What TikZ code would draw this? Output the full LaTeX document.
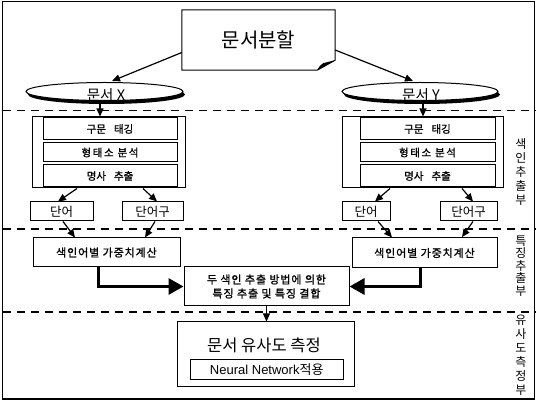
\documentclass[tikz,border=0pt]{standalone}
\usepackage{fontspec}
\newfontfamily\kr{Noto Sans CJK KR}
\newfontfamily\krb[FakeBold=1.2]{Noto Sans CJK KR}
\newfontfamily\lib{Liberation Sans}
\usetikzlibrary{arrows.meta,calc,shapes.geometric}
\tikzset{
  box/.style={draw, line width=1pt, inner sep=0pt},
  arr/.style={-{Triangle[length=8pt,width=7pt]}, line width=1.2pt},
  bigarr/.style={-{Triangle[length=15pt,width=16pt]}, line width=3pt},
  sep/.style={dash pattern=on 8pt off 6pt, line width=1.6pt},
  fsmall/.style={font=\krb\fontsize{10.5}{12}\selectfont},
  fword/.style={font=\kr\fontsize{12.5}{14}\selectfont},
  fmid/.style={font=\krb\fontsize{11}{14}\selectfont},
  side/.style={align=center, inner sep=0pt, font=\kr\fontsize{12}{14}\selectfont},
  ell/.style={ellipse, draw, fill=white, line width=1pt, inner sep=0pt, minimum height=18pt},
}
\begin{document}
\begin{tikzpicture}[x=1pt,y=-1pt]
\useasboundingbox (0,0) rectangle (536,403);
% frame
\draw[line width=1.2pt] (2.5,1.5) rectangle (534.5,399);
% separators
\coordinate (s1a) at (2.5,110.5); \coordinate (s1b) at (536,110.5);
\coordinate (s2a) at (2.5,229); \coordinate (s2b) at (536,229);
\coordinate (s3a) at (2.5,312); \coordinate (s3b) at (536,312);
\draw[sep] (s1a) -- (s1b);
\draw[sep] (s2a) -- (s2b);
\draw[sep] (s3a) -- (s3b);

% top note box
\node[inner sep=0pt, minimum width=153pt, minimum height=60pt, font=\kr\fontsize{20}{24}\selectfont] (split) at (258.5,40) {문서분할};
\draw[line width=1pt] (split.north west) -- (split.north east) -- ($(split.south east)+(0,-10)$)
  -- ($(split.south east)+(-18,0)$) -- (split.south west) -- cycle;
\fill ($(split.south east)+(-18,0)$) .. controls ($(split.south east)+(-15,-5)$) .. ($(split.south east)+(-12,-7)$)
  -- ($(split.south east)+(0,-10)$) -- ($(split.south east)+(-14,-2)$) -- cycle;

% ellipses (with drop shadow)
\fill (106.5,94.5) ellipse (78.5pt and 9.5pt);
\node[ell, minimum width=157pt] (ellX) at (104.5,91.5) {};
\fill (422,94.5) ellipse (78pt and 9.5pt);
\node[ell, minimum width=156pt] (ellY) at (420,91.5) {};
\node[font=\kr\fontsize{14.5}{16}\selectfont, inner sep=0pt] (tX) at (106,95) {문서 X};
\node[font=\kr\fontsize{14.5}{16}\selectfont, inner sep=0pt] (tY) at (421,95) {문서 Y};

\draw[arr] ($(split.west)+(0,12.5)$) -- ($(ellX.north)+(7.5,-1)$);
\draw[arr] ($(split.east)+(0,10)$) -- ($(ellY.north)+(-7,-1)$);

% index boxes left
\node[box, minimum width=153pt, minimum height=71pt] (ixX) at (108.5,152.5) {};
\node[box, fsmall, minimum width=134pt, minimum height=22pt] (tagX) at (110,129) {구문\hspace{8pt}태깅};
\node[box, fsmall, minimum width=134pt, minimum height=19pt] (morX) at (110,152.5) {\addfontfeature{LetterSpace=15}형태소 분석};
\node[box, fsmall, minimum width=134pt, minimum height=22pt] (nounX) at (110,176) {명사\hspace{8pt}추출};
% index boxes right
\node[box, minimum width=161pt, minimum height=71pt] (ixY) at (422.5,152.5) {};
\node[box, fsmall, minimum width=135pt, minimum height=22pt] (tagY) at (427.5,129) {구문\hspace{8pt}태깅};
\node[box, fsmall, minimum width=135pt, minimum height=19pt] (morY) at (427.5,152.5) {\addfontfeature{LetterSpace=15}형태소 분석};
\node[box, fsmall, minimum width=135pt, minimum height=22pt] (nounY) at (427.5,176) {명사\hspace{8pt}추출};

\draw[arr] ($(ellX.south)+(-4.5,3)$) -- ($(ixX.north)+(-8.5,0)$);
\draw[arr] ($(ellY.south)+(3,3)$) -- ($(ixY.north)+(0.5,0)$);

% word boxes
\node[box, fword, minimum width=63pt, minimum height=19pt] (wX) at (61.5,211.5) {단어};
\node[box, fword, minimum width=61pt, minimum height=19pt] (pX) at (152.5,211.5) {단어구};
\node[box, fword, minimum width=48pt, minimum height=19pt] (wY) at (366,211.5) {단어};
\node[box, fword, minimum width=57pt, minimum height=19pt] (pY) at (468.5,211.5) {단어구};

\draw[arr] ($(ixX.south)+(-31.5,0)$) -- ($(wX.north)+(-3.5,0)$);
\draw[arr] ($(ixX.south)+(34.5,0)$) -- ($(pX.north)+(4.5,0)$);
\draw[arr] ($(ixY.south)+(-32.5,0)$) -- ($(wY.north)+(9,0)$);
\draw[arr] ($(ixY.south)+(39.5,0)$) -- ($(pY.north)+(4.5,0)$);

% weight boxes
\node[box, fmid, minimum width=147pt, minimum height=29pt] (idxL) at (106.5,252.5) {\addfontfeature{LetterSpace=8}색인어별 가중치계산};
\node[box, fmid, minimum width=145pt, minimum height=30pt] (idxR) at (424.5,253) {\addfontfeature{LetterSpace=8}색인어별 가중치계산};

\draw[arr] ($(wX.south)+(1.5,0)$) -- ($(idxL.north)+(-31.5,0)$);
\draw[arr] ($(pX.south)+(2.5,0)$) -- ($(idxL.north)+(38.5,0)$);
\draw[arr] ($(wY.south)+(12,0)$) -- ($(idxR.north)+(-32.5,0)$);
\draw[arr] ($(pY.south)+(4.5,0)$) -- ($(idxR.north)+(37.5,-0.5)$);

% combination box
\node[box, fmid, align=center, minimum width=165pt, minimum height=39pt] (mid) at (266.5,286.5)
  {\addfontfeature{LetterSpace=8}두 색인 추출 방법에 의한\\\addfontfeature{LetterSpace=8}특징 추출 및 특징 결합};
\draw[bigarr] ($(idxL.south)+(-8.5,0)$) |- (mid.west);
\draw[bigarr] ($(idxR.south)+(-4.5,0)$) |- (mid.east);

% similarity box
\node[box, minimum width=177pt, minimum height=65pt] (sim) at (265.5,354.5) {};
\node[inner sep=0pt, font=\kr\fontsize{16.5}{18}\selectfont] (simT) at (264,345) {문서 유사도 측정};
\node[box, minimum width=152.5pt, minimum height=20.5pt, font=\lib\fontsize{13}{15}\selectfont] (nn) at (266.75,369.75) {Neural Network{\kr 적용}};
\draw[arr] (mid.south) -- (mid.south |- sim.north);

% side labels
\node[side] (lab1) at (521,172) {색\\인\\추\\출\\부};
\node[side, font=\kr\fontsize{12}{12.5}\selectfont] (lab2) at (521,266) {특\\징\\추\\출\\부};
\node[side, font=\kr\fontsize{12}{14}\selectfont] (lab3) at (521,355) {유\\사\\도\\측\\정\\부};
\end{tikzpicture}
\end{document}
